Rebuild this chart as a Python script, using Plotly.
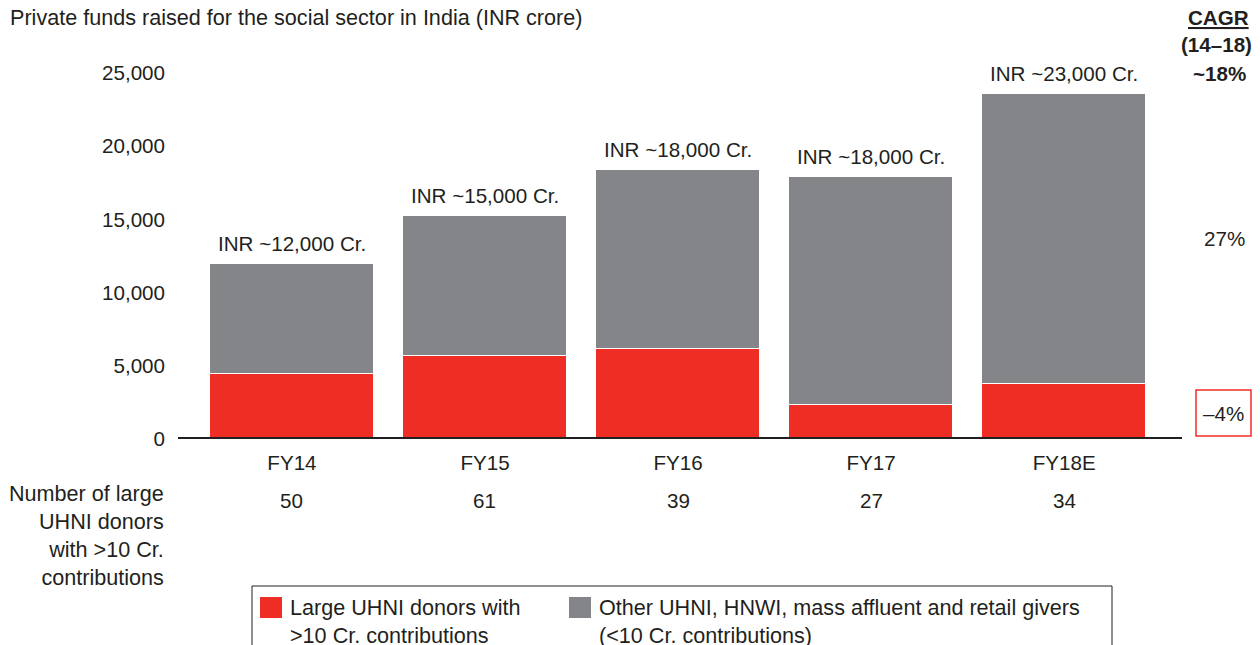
import plotly.graph_objects as go

years = ["FY14", "FY15", "FY16", "FY17", "FY18E"]
large_uhni = [4450, 5670, 6150, 2320, 3760]
other_givers = [7500, 9560, 12220, 15580, 19810]
total_labels = ["INR ~12,000 Cr.", "INR ~15,000 Cr.", "INR ~18,000 Cr.", "INR ~18,000 Cr.", "INR ~23,000 Cr."]
donor_counts = ["50", "61", "39", "27", "34"]
cagr_other = "27%"
cagr_large = "–4%"
cagr_total = "~18%"

RED = "#EE2E24"
GREY = "#848589"
INK = "#231F20"
FONT = "Liberation Sans, Arial, sans-serif"
FS = 20.6   # numbers / short labels
FS_TXT = 21.6  # longer prose labels

OFF = 8  # page body margin
W, H = 1260 - OFF, 645 - OFF
L, R, T, B = 178, 1182, 73, 439  # plot area, in screenshot pixels


def px_x(p):
    return (p - L) / (R - L)


def px_y(p):
    return (B - p) / (B - T)


fig = go.Figure()
fig.add_bar(x=list(range(len(years))), y=large_uhni, marker_color=RED,
            marker_line=dict(color="white", width=1), width=0.85, showlegend=False)
fig.add_bar(x=list(range(len(years))), y=other_givers, marker_color=GREY,
            marker_line=dict(color="white", width=1), width=0.85, showlegend=False)

ann = []
totals = [a + b for a, b in zip(large_uhni, other_givers)]
for i, t in enumerate(totals):
    ann.append(dict(x=i, y=t, xref="x", yref="y", text=total_labels[i], showarrow=False,
                    yanchor="bottom", yshift=7))
    ann.append(dict(x=i, y=px_y(500), xref="x", yref="paper", text=donor_counts[i],
                    showarrow=False, yanchor="middle"))

ann.append(dict(x=px_x(166), y=px_y(535), xref="paper", yref="paper",
                text="Number of large<br>UHNI donors<br>with >10 Cr.<br>contributions",
                showarrow=False, xanchor="right", align="right", yanchor="middle",
                font=dict(size=FS_TXT)))
ann.append(dict(x=px_x(8), y=px_y(18), xref="paper", yref="paper",
                text="Private funds raised for the social sector in India (INR crore)",
                showarrow=False, xanchor="left", yanchor="middle", font=dict(size=FS_TXT)))

# CAGR column on the right
cagr = [("<b><u>CAGR</u></b>", 1218, 17), ("<b>(14–18)</b>", 1216, 44),
        ("<b>" + cagr_total + "</b>", 1219, 73), (cagr_other, 1224, 239),
        (cagr_large, 1223, 413)]
for txt, cx, cy in cagr:
    ann.append(dict(x=px_x(cx), y=px_y(cy), xref="paper", yref="paper", text=txt,
                    showarrow=False, xanchor="center", yanchor="middle"))

# legend drawn by hand (box runs off the bottom of the page)
ann.append(dict(x=px_x(288), y=px_y(593), xref="paper", yref="paper",
                text="Large UHNI donors with<br>>10 Cr. contributions", showarrow=False,
                xanchor="left", yanchor="top", align="left", font=dict(size=FS_TXT)))
ann.append(dict(x=px_x(597), y=px_y(593), xref="paper", yref="paper",
                text="Other UHNI, HNWI, mass affluent and retail givers<br>(<10 Cr. contributions)",
                showarrow=False, xanchor="left", yanchor="top", align="left",
                font=dict(size=FS_TXT)))

shapes = [
    dict(type="line", xref="paper", yref="y", x0=0, x1=1, y0=0, y1=0,
         line=dict(color=INK, width=4)),
    dict(type="rect", xref="paper", yref="paper", x0=px_x(1196), x1=px_x(1251),
         y0=px_y(390), y1=px_y(436), line=dict(color=RED, width=1.5)),
    dict(type="rect", xref="paper", yref="paper", x0=px_x(252), x1=px_x(1112),
         y0=px_y(586), y1=px_y(700), line=dict(color=INK, width=1)),
    dict(type="rect", xref="paper", yref="paper", x0=px_x(260), x1=px_x(282),
         y0=px_y(597), y1=px_y(618), fillcolor=RED, line=dict(width=0)),
    dict(type="rect", xref="paper", yref="paper", x0=px_x(569), x1=px_x(591),
         y0=px_y(597), y1=px_y(618), fillcolor=GREY, line=dict(width=0)),
]

fig.update_layout(
    barmode="stack",
    width=W, height=H,
    margin=dict(l=L - OFF, r=W - (R - OFF), t=T - OFF, b=H - (B - OFF), pad=0,
                autoexpand=False),
    paper_bgcolor="white", plot_bgcolor="white",
    font=dict(family=FONT, size=FS, color=INK),
    annotations=ann,
    shapes=shapes,
    bargap=0,
)
fig.update_xaxes(range=[-0.59, 4.61], tickvals=list(range(len(years))), ticktext=years,
                 showgrid=False, zeroline=False, showline=False, ticks="",
                 ticklabelstandoff=9, tickfont=dict(size=FS))
fig.update_yaxes(range=[0, 25000], tickvals=[0, 5000, 10000, 15000, 20000, 25000],
                 tickformat=",", showgrid=False, zeroline=False, showline=False, ticks="",
                 ticklabelstandoff=12, tickfont=dict(size=FS))

fig.write_html("out.html")
